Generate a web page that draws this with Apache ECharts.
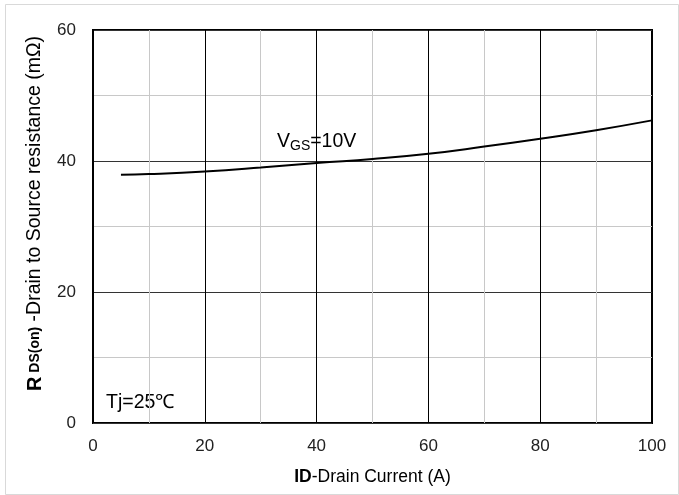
<!DOCTYPE html>
<html>
<head>
<meta charset="utf-8">
<script src="https://cdn.jsdelivr.net/npm/echarts@6/dist/echarts.min.js"></script>
<style>html,body{margin:0;padding:0;background:#fff}#c{width:679px;height:495px}</style>
</head>
<body>
<div id="c"></div>
<script>
var currentA = [5, 10, 20, 30, 40, 50, 60, 70, 80, 90, 100];
var rdsOn = [37.9, 38.0, 38.4, 39.0, 39.7, 40.3, 41.1, 42.2, 43.4, 44.7, 46.2];
var xTicks = [0, 20, 40, 60, 80, 100];
var yTicks = [0, 20, 40, 60];

var chart = echarts.init(document.getElementById('c'));
var font = 'Liberation Sans, Arial, sans-serif';
chart.setOption({
  animation: false,
  backgroundColor: '#fff',
  grid: {left: 93, right: 27, top: 30, bottom: 72, show: true, borderColor: '#000', borderWidth: 2, backgroundColor: 'transparent'},
  xAxis: {
    type: 'value', min: 0, max: 100, interval: 10,
    axisLine: {show: false}, axisTick: {show: false},
    axisLabel: {fontSize: 17, color: '#222', fontFamily: font, margin: 15,
      formatter: function (v) { return xTicks.indexOf(v) >= 0 ? String(v) : ''; }},
    splitLine: {show: true, lineStyle: {color: ['#000', '#c8c8c8'], width: 1}},
    name: '{b|ID}{n|-Drain Current (A)}', nameLocation: 'middle', nameGap: 45,
    nameTextStyle: {rich: {b: {fontSize: 17.5, fontWeight: 'bold', color: '#000', fontFamily: font}, n: {fontSize: 17.5, color: '#000', fontFamily: font}}}
  },
  yAxis: {
    type: 'value', min: 0, max: 60, interval: 10,
    axisLine: {show: false}, axisTick: {show: false},
    axisLabel: {fontSize: 17, color: '#222', fontFamily: font, margin: 17,
      formatter: function (v) { return yTicks.indexOf(v) >= 0 ? String(v) : ''; }},
    splitLine: {show: true, lineStyle: {color: ['#333', '#c8c8c8'], width: 1}},
    name: '{b|R}{s| DS(on)}{n| -Drain to Source resistance (mΩ)}', nameLocation: 'middle', nameGap: 48,
    nameTextStyle: {padding: [0, 0, 0, 26], rich: {b: {fontSize: 20, fontWeight: 'bold', color: '#000', fontFamily: font}, s: {fontSize: 14, fontWeight: 'bold', color: '#000', fontFamily: font}, n: {fontSize: 19.5, color: '#000', fontFamily: font}}}
  },
  series: [{
    type: 'line', smooth: true, showSymbol: false,
    lineStyle: {color: '#000', width: 2},
    data: currentA.map(function (x, i) { return [x, rdsOn[i]]; })
  }],
  graphic: [
    {type: 'rect', left: 3, top: 2, shape: {width: 673, height: 490}, style: {fill: 'none', stroke: '#d9d9d9', lineWidth: 1}, silent: true, z: -10},
    {type: 'text', left: 277, top: 132, style: {text: '{a|V}{b|GS}{a|=10V}', rich: {a: {fontSize: 19.5, fill: '#000', fontFamily: font}, b: {fontSize: 14, fill: '#000', fontFamily: font, padding: [9, 0, 0, 0]}}}},
    {type: 'text', left: 106, top: 393, style: {text: 'Tj=25℃', fontSize: 19.5, fill: '#000', fontFamily: font}}
  ]
});
</script>
</body>
</html>
